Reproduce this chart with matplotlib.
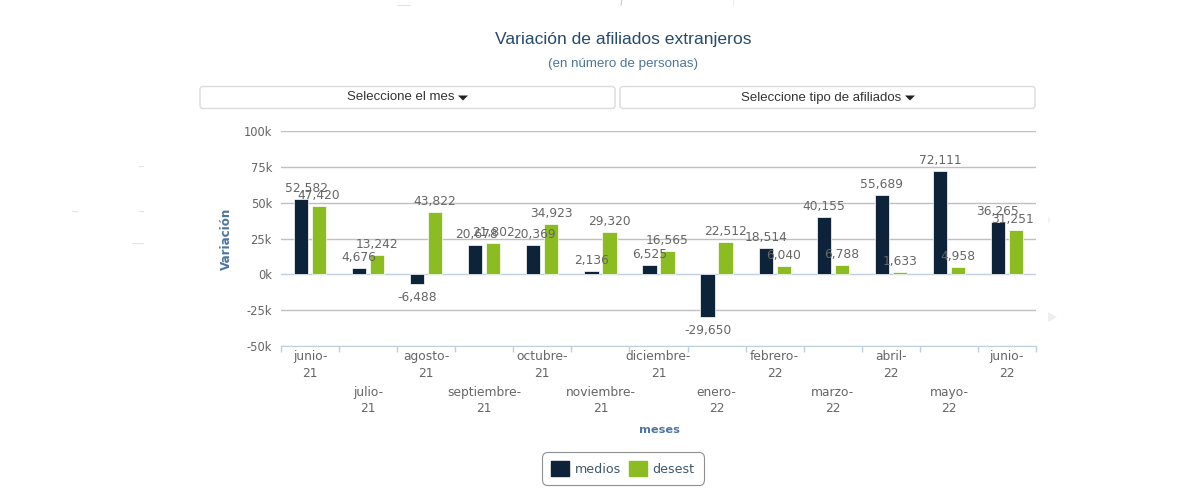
import matplotlib
matplotlib.use("Agg")
import matplotlib.pyplot as plt
from matplotlib.patches import FancyBboxPatch, Patch, Polygon

# values
meses = ["junio-\n21", "julio-\n21", "agosto-\n21", "septiembre-\n21", "octubre-\n21",
         "noviembre-\n21", "diciembre-\n21", "enero-\n22", "febrero-\n22", "marzo-\n22",
         "abril-\n22", "mayo-\n22", "junio-\n22"]
medios = [52582, 4676, -6488, 20678, 20369, 2136, 6525, -29650, 18514, 40155, 55689, 72111, 36265]
desest = [47420, 13242, 43822, 21802, 34923, 29320, 16565, 22512, 6040, 6788, 1633, 4958, 31251]
y_ticks = [-50000, -25000, 0, 25000, 50000, 75000, 100000]
y_labels = ["-50k", "-25k", "0k", "25k", "50k", "75k", "100k"]

DARK = "#0d233a"
GREEN = "#8bbc21"
LABEL = "#666666"
AXIS_BLUE = "#c0d0e0"
TITLE = "#274b6d"
SUB = "#4d759e"
W, H = 1200, 500
L, R, T, B = 281, 1036, 131, 346

fig = plt.figure(figsize=(12, 5), dpi=100)

# page furniture in pixel coordinates
page = fig.add_axes([0, 0, 1, 1], zorder=-1)
page.set_xlim(0, W)
page.set_ylim(H, 0)
page.axis("off")

page.text(623.5, 39.5, "Variación de afiliados extranjeros", family="Liberation Sans",
          fontsize=12.6, color=TITLE, ha="center", va="center")
page.text(623.5, 63.5, "(en número de personas)", family="Liberation Sans",
          fontsize=9.6, color=SUB, ha="center", va="center")

for x0, x1, txt, tx, cx in [(200, 615, "Seleccione el mes", 401, 463),
                            (620, 1035, "Seleccione tipo de afiliados", 821, 910)]:
    page.add_patch(FancyBboxPatch((x0, 86.5), x1 - x0, 22, boxstyle="round,pad=0,rounding_size=3",
                                  fc="white", ec="#dedede", lw=1.1))
    page.text(tx, 97.5, txt, family="Liberation Sans", fontsize=9.5, color="#333333",
              ha="center", va="center")
    page.add_patch(Polygon([(cx - 5, 95.5), (cx + 5, 95.5), (cx, 100.5)], fc="#222222", ec="none"))

# faint leftovers around the screenshot
for x0, x1, y0 in [(139, 143, 166), (72, 77, 211), (139, 143, 211), (132, 143, 243), (397, 410, 5)]:
    page.plot([x0, x1], [y0, y0], color="#e4e4e4", lw=0.8)
page.plot([622, 621], [0, 5], color="#b8cfe6", lw=0.8)
page.plot([733, 733], [0, 5], color="#e8eef5", lw=0.8)
page.add_patch(Polygon([(1048, 216), (1051, 220), (1048, 224)], fc="#f2f2f2", ec="none"))
page.add_patch(Polygon([(1048, 312), (1057, 317), (1048, 322)], fc="#eeeeee", ec="none"))

# chart
ax = fig.add_axes([L / W, 1 - B / H, (R - L) / W, (B - T) / H], facecolor="none")
pos = list(range(len(meses)))
off = 0.155
ax.bar([p - off for p in pos], medios, width=0.245, color=DARK, edgecolor="white", linewidth=0.5, zorder=3)
ax.bar([p + off for p in pos], desest, width=0.245, color=GREEN, edgecolor="white", linewidth=0.5, zorder=3)

ax.set_xlim(-0.5, len(meses) - 0.5)
ax.set_ylim(-50000, 100000)
ax.set_yticks(y_ticks, y_labels)
ax.grid(axis="y", color="#c0c0c0", lw=1, zorder=1)
ax.set_axisbelow(True)
for t, v in zip(ax.yaxis.get_major_ticks(), y_ticks):
    if v in (0, -50000):
        t.gridline.set_color(AXIS_BLUE)
ax.tick_params(axis="y", length=0, pad=6.5, labelsize=8.3, labelcolor=LABEL)

ax.set_xticks(pos, meses)
ax.set_xticks([p - 0.5 for p in pos] + [len(meses) - 0.5], minor=True)
ax.tick_params(axis="x", which="major", length=0, labelsize=8.8, labelcolor=LABEL)
ax.tick_params(axis="x", which="minor", length=4, width=1, color=AXIS_BLUE)
for i, t in enumerate(ax.xaxis.get_major_ticks()):
    t.set_pad(3.0 if i % 2 == 0 else 28.5)
    t.label1.set_linespacing(1.35)

for s in ["top", "left", "right"]:
    ax.spines[s].set_visible(False)
ax.spines["bottom"].set_color(AXIS_BLUE)

# data labels, the end ones are pushed back inside the plot
px = 0.72
shift_medios = [5, 0, 0, 1, 1, 0, 0, 0, 0, 0, 0, 0, 0]
shift_desest = [0, 0, 0, 0, 0, 0, 0, 0, 0, 0, 0, 0, -3.5]
for vals, sign, shifts in [(medios, -1, shift_medios), (desest, 1, shift_desest)]:
    for p, v, s in zip(pos, vals, shifts):
        dy = 10.5 if v >= 0 else -14
        ax.annotate(f"{v:,}", (p + sign * off, v), xytext=(s * px, dy * px), textcoords="offset points",
                    ha="center", va="center", fontsize=8.8, color=LABEL, zorder=5, annotation_clip=False)

ax.text((226 - L) / (R - L), 0.5, "Variación", transform=ax.transAxes, rotation=90, fontsize=8.6,
        fontweight="bold", color=SUB, ha="center", va="center")
page.text(659, 430, "meses", fontsize=8.2, fontweight="bold", color=SUB, ha="center", va="center")

handles = [Patch(facecolor=DARK, edgecolor=DARK, joinstyle="round", label="medios"),
           Patch(facecolor=GREEN, edgecolor=GREEN, joinstyle="round", label="desest")]
leg = fig.legend(handles=handles, ncols=2, loc="center", bbox_to_anchor=(623 / W, 1 - 468.5 / H),
                 fontsize=9.1, frameon=True, fancybox=True, framealpha=1, edgecolor="#909090",
                 handlelength=1.39, handleheight=1.35, handletextpad=0.45, columnspacing=0.7,
                 borderpad=0.7, labelcolor="#3e576f")
leg.get_frame().set_boxstyle("round", pad=0, rounding_size=0.4)
leg.get_frame().set_linewidth(0.8)

plt.savefig("out.png", dpi=100)
